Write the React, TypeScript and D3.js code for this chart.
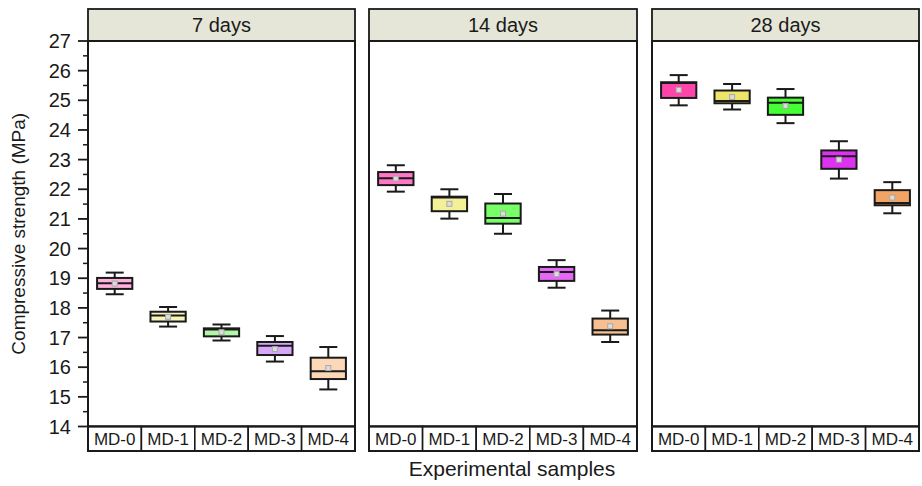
import React from "react";
import * as d3 from "d3";

const panels = ["7 days", "14 days", "28 days"];
const samples = ["MD-0", "MD-1", "MD-2", "MD-3", "MD-4"];
const yTicks = [14, 15, 16, 17, 18, 19, 20, 21, 22, 23, 24, 25, 26, 27];

// [whiskerLow, q1, median, q3, whiskerHigh, mean] per sample, per panel
const stats7 = [
  [18.46, 18.64, 18.83, 19.01, 19.19, 18.82],
  [17.37, 17.54, 17.74, 17.87, 18.03, 17.7],
  [16.9, 17.04, 17.27, 17.31, 17.44, 17.18],
  [16.19, 16.41, 16.72, 16.85, 17.05, 16.61],
  [15.25, 15.6, 15.86, 16.32, 16.68, 15.97],
];
const stats14 = [
  [21.92, 22.14, 22.37, 22.58, 22.81, 22.36],
  [21.01, 21.26, 21.72, 21.75, 22.0, 21.51],
  [20.5, 20.84, 21.03, 21.52, 21.84, 21.18],
  [18.68, 18.91, 19.21, 19.38, 19.61, 19.14],
  [16.85, 17.1, 17.25, 17.64, 17.91, 17.38],
];
const stats28 = [
  [24.83, 25.08, 25.58, 25.61, 25.85, 25.35],
  [24.69, 24.9, 24.98, 25.33, 25.55, 25.11],
  [24.23, 24.51, 24.92, 25.09, 25.38, 24.81],
  [22.36, 22.69, 23.11, 23.31, 23.62, 23.0],
  [21.19, 21.46, 21.54, 21.97, 22.24, 21.72],
];
const colors7 = ["#FFB0DC", "#F8F4B8", "#B0F8A8", "#D8A8F8", "#FDD8B8"];
const colors14 = ["#FF78C8", "#F4F098", "#78FF68", "#E468F4", "#F8C090"];
const colors28 = ["#FF44AA", "#EEE668", "#44FF33", "#DD33F0", "#F2A464"];

const allStats = [stats7, stats14, stats28];
const allColors = [colors7, colors14, colors28];

const W = 922;
const H = 486;
const panelX: [number, number][] = [
  [88, 355],
  [369, 637],
  [652, 919],
];
const headerTop = 9;
const plotTop = 41;
const plotBottom = 426.5;
const stripBottom = 451;
const font = "Liberation Sans, Arial, Helvetica, sans-serif";
const ink = "#1a1a1a";

export default function App() {
  const y = d3.scaleLinear().domain([14, 27]).range([plotBottom, plotTop]);
  const minorTicks = d3.range(14.5, 27, 1);

  return (
    <svg
      width={W}
      height={H}
      style={{ position: "absolute", left: 0, top: 0, background: "#fff" }}
      fontFamily={font}
    >
      {/* Y axis ticks */}
      {yTicks.map((t) => (
        <g key={"t" + t}>
          <line x1={78} x2={88} y1={y(t)} y2={y(t)} stroke={ink} strokeWidth={1.8} />
          <text x={71} y={y(t)} dy="0.35em" textAnchor="end" fontSize={20} fill={ink}>
            {t}
          </text>
        </g>
      ))}
      {minorTicks.map((t) => (
        <line key={"m" + t} x1={83} x2={88} y1={y(t)} y2={y(t)} stroke={ink} strokeWidth={1.5} />
      ))}
      <text
        transform={`translate(25,${(plotTop + plotBottom) / 2}) rotate(-90)`}
        textAnchor="middle"
        fontSize={19}
        fill={ink}
      >
        Compressive strength (MPa)
      </text>

      {panels.map((p, pi) => {
        const [x0, x1] = panelX[pi];
        const xb = d3.scaleBand().domain(samples).range([x0, x1]).padding(0);
        const bw = xb.bandwidth();
        const boxW = bw * 0.66;
        const capW = 18;
        return (
          <g key={p}>
            <rect x={x0} y={headerTop} width={x1 - x0} height={plotTop - headerTop} fill="#E6E6D8" stroke={ink} strokeWidth={1.8} />
            <text x={(x0 + x1) / 2} y={(headerTop + plotTop) / 2} dy="0.36em" textAnchor="middle" fontSize={20} fill={ink}>
              {p}
            </text>
            <rect x={x0} y={plotTop} width={x1 - x0} height={plotBottom - plotTop} fill="#fff" stroke={ink} strokeWidth={2} />
            {samples.map((s, si) => {
              const [lo, q1, med, q3, hi, mean] = allStats[pi][si];
              const cx = (xb(s) as number) + bw / 2;
              return (
                <g key={s}>
                  <line x1={cx} x2={cx} y1={y(hi)} y2={y(q3)} stroke={ink} strokeWidth={2} />
                  <line x1={cx} x2={cx} y1={y(q1)} y2={y(lo)} stroke={ink} strokeWidth={2} />
                  <line x1={cx - capW / 2} x2={cx + capW / 2} y1={y(hi)} y2={y(hi)} stroke={ink} strokeWidth={2} />
                  <line x1={cx - capW / 2} x2={cx + capW / 2} y1={y(lo)} y2={y(lo)} stroke={ink} strokeWidth={2} />
                  <rect x={cx - boxW / 2} y={y(q3)} width={boxW} height={y(q1) - y(q3)} fill={allColors[pi][si]} stroke={ink} strokeWidth={2} />
                  <line x1={cx - boxW / 2} x2={cx + boxW / 2} y1={y(med)} y2={y(med)} stroke={ink} strokeWidth={2} />
                  <rect x={cx - 2.5} y={y(mean) - 2.5} width={5} height={5} fill="#dcdcdc" stroke="#a8a8a8" strokeWidth={1} />
                </g>
              );
            })}
            {/* label strip */}
            {samples.map((s) => (
              <g key={"l" + s}>
                <rect x={xb(s) as number} y={plotBottom} width={bw} height={stripBottom - plotBottom} fill="#fff" stroke={ink} strokeWidth={1.6} />
                <text x={(xb(s) as number) + bw / 2} y={(plotBottom + stripBottom) / 2} dy="0.36em" textAnchor="middle" fontSize={17} fill={ink}>
                  {s}
                </text>
              </g>
            ))}
            <rect x={x0} y={plotBottom} width={x1 - x0} height={stripBottom - plotBottom} fill="none" stroke={ink} strokeWidth={2} />
          </g>
        );
      })}

      <text x={512} y={468} dy="0.36em" textAnchor="middle" fontSize={21} fill={ink}>
        Experimental samples
      </text>
    </svg>
  );
}
